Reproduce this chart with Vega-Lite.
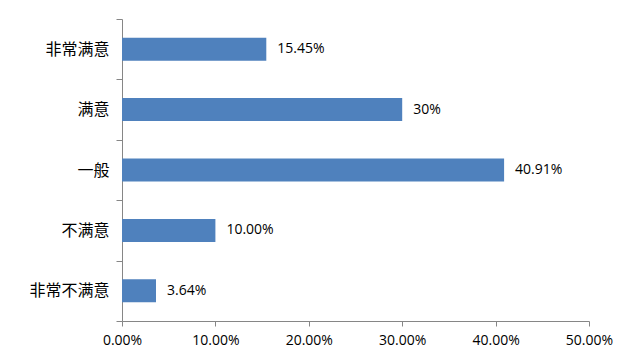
{
  "$schema": "https://vega.github.io/schema/vega-lite/v6.json",
  "width": 467,
  "height": 302,
  "autosize": {"type": "none"},
  "padding": {"left": 122, "top": 19, "right": 36, "bottom": 39},
  "background": "white",
  "config": {"view": {"stroke": null}},
  "data": {
    "values": [
      {"cat": "非常满意", "v": 15.45, "label": "15.45%"},
      {"cat": "满意", "v": 30, "label": "30%"},
      {"cat": "一般", "v": 40.91, "label": "40.91%"},
      {"cat": "不满意", "v": 10.0, "label": "10.00%"},
      {"cat": "非常不满意", "v": 3.64, "label": "3.64%"}
    ]
  },
  "encoding": {
    "y": {
      "field": "cat",
      "type": "nominal",
      "sort": null,
      "scale": {"paddingInner": 0, "paddingOuter": 0},
      "axis": {
        "title": null,
        "tickBand": "extent",
        "domainColor": "#868686",
        "tickColor": "#868686",
        "tickSize": 6,
        "labelPadding": 7,
        "labelFont": "Noto Sans CJK SC",
        "labelFontSize": 16,
        "labelColor": "#000000"
      }
    },
    "x": {
      "field": "v",
      "type": "quantitative",
      "scale": {"domain": [0, 50], "nice": false},
      "axis": {
        "title": null,
        "values": [0, 10, 20, 30, 40, 50],
        "labelExpr": "format(datum.value, '.2f') + '%'",
        "labelFlush": false,
        "grid": false,
        "domainColor": "#868686",
        "tickColor": "#868686",
        "tickSize": 5,
        "labelPadding": 7,
        "labelFont": "Open Sans",
        "labelFontSize": 14,
        "labelColor": "#000000"
      }
    }
  },
  "layer": [
    {
      "mark": {"type": "bar", "color": "#4F81BD", "height": {"band": 0.38}}
    },
    {
      "mark": {"type": "text", "align": "left", "dx": 11, "font": "Open Sans", "fontSize": 14, "color": "#000000"},
      "encoding": {"text": {"field": "label"}}
    }
  ]
}
